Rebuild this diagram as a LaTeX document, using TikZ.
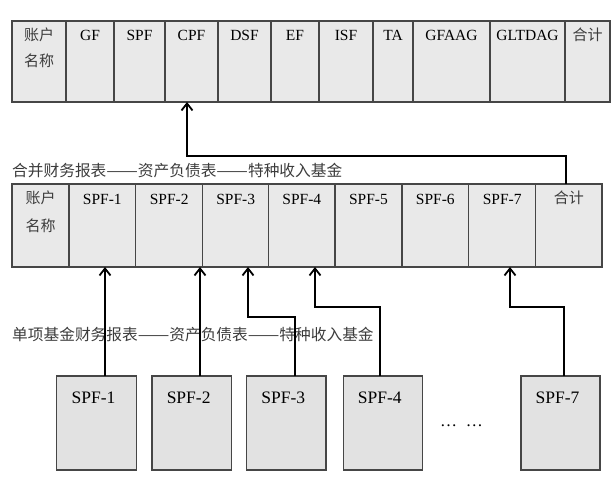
\documentclass[tikz,border=0pt]{standalone}
\usepackage{fontspec}
\usepackage{graphicx}
\setmainfont{Liberation Serif}
\newfontfamily\cjk{Noto Sans CJK SC}
\usetikzlibrary{arrows.meta,calc}
\definecolor{cellfill}{RGB}{233,233,233}
\definecolor{boxfill}{RGB}{226,226,226}
\definecolor{edge}{RGB}{70,70,70}
\definecolor{cjktxt}{RGB}{60,60,60}
\newcommand{\wdash}{\scalebox{1.2}[1]{——}}
\begin{document}
\begin{tikzpicture}[x=1pt,y=-1pt,
  cell/.style={draw=edge, fill=cellfill, line width=1.2pt, inner sep=0pt, outer sep=0pt, anchor=north west},
  fundbox/.style={draw=edge, fill=boxfill, line width=1.2pt, inner sep=0pt, outer sep=0pt, anchor=north west, minimum height=94pt},
  ltxt/.style={anchor=base, inner sep=0pt, font=\fontsize{15.5}{18}\selectfont},
  ctxt/.style={anchor=base, inner sep=0pt, text=cjktxt, font=\cjk\fontsize{15}{18}\selectfont},
  btxt/.style={anchor=base, inner sep=0pt, font=\fontsize{17.5}{20}\selectfont},
  ttl/.style={anchor=base west, inner sep=0pt, text=cjktxt, font=\cjk\fontsize{15.7}{18}\selectfont},
  arr/.style={line width=1.8pt, -{Straight Barb[length=7pt,width=11pt]}}
]
\useasboundingbox (0,0) rectangle (616,486);

% ---------- top table ----------
\node[cell, minimum width=54pt, minimum height=81pt] (t1) at (12,21) {};
\node[ctxt] (t1a) at ([yshift=-20pt]t1.north) {账户};
\node[ctxt] (t1b) at ([yshift=-46pt]t1.north) {名称};
\foreach \a/\b/\t [count=\i from 2] in {66/114/GF,114/165/SPF,165/218/CPF,218/271/DSF,271/319/EF,319/373/ISF,373/413/TA,413/490/GFAAG,490/565/GLTDAG}{
  \pgfmathsetmacro\w{\b-\a}
  \node[cell, minimum width=\w pt, minimum height=81pt] (t\i) at (\a,21) {};
  \node[ltxt] (tl\i) at ([yshift=-19.5pt]t\i.north) {\t};
}
\node[cell, minimum width=45pt, minimum height=81pt] (t11) at (565,21) {};
\node[ctxt] (t11a) at ([yshift=-20pt]t11.north) {合计};

% ---------- title 1 ----------
\node[ttl] (title1) at (12,177) {合并财务报表\wdash 资产负债表\wdash 特种收入基金};

% ---------- middle table ----------
\node[cell, minimum width=57pt, minimum height=83pt] (m1) at (12,184) {};
\node[ctxt] (m1a) at ([yshift=-20pt]m1.north) {账户};
\node[ctxt] (m1b) at ([yshift=-48pt]m1.north) {名称};
\foreach \a/\b/\t [count=\i from 2] in {69/135.7/SPF-1,135.7/202.7/SPF-2,202.7/268.7/SPF-3,268.7/335/SPF-4,335/402/SPF-5,402/468.7/SPF-6,468.7/535.7/SPF-7}{
  \pgfmathsetmacro\w{\b-\a}
  \node[cell, minimum width=\w pt, minimum height=83pt] (m\i) at (\a,184) {};
  \node[ltxt] (ml\i) at ([yshift=-20.5pt]m\i.north) {\t};
}
\node[cell, minimum width=66.3pt, minimum height=83pt] (m9) at (535.7,184) {};
\node[ctxt] (m9a) at ([yshift=-20pt]m9.north) {合计};

% ---------- title 2 ----------
\node[ttl] (title2) at (12,341) {单项基金财务报表\wdash 资产负债表\wdash 特种收入基金};

% ---------- bottom boxes ----------
\node[fundbox, minimum width=79.6pt] (b1) at (56.7,376) {};
\node[fundbox, minimum width=79.3pt] (b2) at (152,376) {};
\node[fundbox, minimum width=79.3pt] (b3) at (246.7,376) {};
\node[fundbox, minimum width=79pt] (b4) at (343.3,376) {};
\node[fundbox, minimum width=79pt] (b7) at (521,376) {};
\node[btxt] (bl1) at ([xshift=-3pt,yshift=-27pt]b1.north) {SPF-1};
\node[btxt] (bl2) at ([xshift=-3pt,yshift=-27pt]b2.north) {SPF-2};
\node[btxt] (bl3) at ([xshift=-3pt,yshift=-27pt]b3.north) {SPF-3};
\node[btxt] (bl4) at ([xshift=-3pt,yshift=-27pt]b4.north) {SPF-4};
\node[btxt] (bl7) at ([xshift=-3pt,yshift=-27pt]b7.north) {SPF-7};
\node[anchor=base, inner sep=0pt, font=\fontsize{17}{20}\selectfont] (dots) at (461.5,426) {…\hspace{9pt}…};

% ---------- connectors ----------
\draw[arr] ([xshift=8.5pt]b1.north) -- ([xshift=8.5pt]b1.north |- m2.south);
\draw[arr] ([xshift=8.35pt]b2.north) -- ([xshift=8.35pt]b2.north |- m3.south);
\draw[arr] ([xshift=8.65pt]b3.north) -- ++(0,-59) -| ([xshift=12.3pt]m4.south);
\draw[arr] ([xshift=-2.8pt]b4.north) -- ++(0,-69) -| ([xshift=13.15pt]m5.south);
\draw[arr] ([xshift=3.5pt]b7.north) -- ++(0,-69) -| ([xshift=7.8pt]m8.south);
\draw[arr] ([xshift=-2.85pt]m9.north) -- ++(0,-28) -| ([xshift=-4.5pt]t4.south);
\end{tikzpicture}
\end{document}
